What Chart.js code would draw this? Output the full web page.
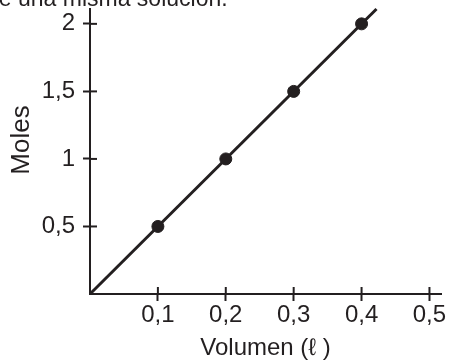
<!DOCTYPE html>
<html>
<head>
<meta charset="utf-8">
<script src="https://cdn.jsdelivr.net/npm/chart.js@4/dist/chart.umd.min.js"></script>
<style>
  html, body { margin: 0; padding: 0; background: #fff; }
  #wrap { width: 450px; height: 364px; }
</style>
</head>
<body>
<div id="wrap"><canvas id="chart" width="450" height="364"></canvas></div>
<script>
// ---------------------------------------------------------------------------
// Data
// ---------------------------------------------------------------------------

const VOLUMES = [0.1, 0.2, 0.3, 0.4];
const MOLES = [0.5, 1, 1.5, 2];
const LINE_X = [0, 0.422];      // fitted line runs from the origin past the last point
const LINE_Y = [0, 2.11];
const X_TICKS = [0.1, 0.2, 0.3, 0.4, 0.5];
const Y_TICKS = [0.5, 1, 1.5, 2];
const X_MAX = 0.517;
const Y_MAX = 2.11;

const INK = "#231f20";
const FONT = "'Liberation Sans', Arial, sans-serif";

const comma = v => String(v).replace(".", ",");

// ticks in the reference cross the axis: Chart.js draws the outer half,
// this plugin adds the inner half, the y title and the cropped caption
const extras = {
  id: "extras",
  afterDatasetsDraw(chart) {
    const { ctx, scales } = chart;
    const inner = 7;
    ctx.save();
    ctx.strokeStyle = INK;
    ctx.lineWidth = 2;
    X_TICKS.forEach(v => {
      const x = scales.x.getPixelForValue(v);
      ctx.beginPath();
      ctx.moveTo(x, scales.x.top);
      ctx.lineTo(x, scales.x.top - inner);
      ctx.stroke();
    });
    Y_TICKS.forEach(v => {
      const y = scales.y.getPixelForValue(v);
      ctx.beginPath();
      ctx.moveTo(scales.y.right, y);
      ctx.lineTo(scales.y.right + inner, y);
      ctx.stroke();
    });

    ctx.fillStyle = INK;
    ctx.font = `23px ${FONT}`;
    ctx.textAlign = "left";
    ctx.textBaseline = "alphabetic";
    ctx.fillText("de una misma solución.", -14, 6);

    // "Moles" sits a little above the middle of the axis in the original
    ctx.translate(22, 140);
    ctx.rotate(-Math.PI / 2);
    ctx.font = `26px ${FONT}`;
    ctx.textAlign = "center";
    ctx.textBaseline = "middle";
    ctx.fillText("Moles", 0, 0);
    ctx.restore();
  },
};

new Chart(document.getElementById("chart"), {
  type: "scatter",
  data: {
    datasets: [
      {
        type: "line",
        data: LINE_X.map((x, i) => ({ x, y: LINE_Y[i] })),
        borderColor: INK,
        borderWidth: 3,
        pointRadius: 0,
        clip: false,
      },
      {
        data: VOLUMES.map((x, i) => ({ x, y: MOLES[i] })),
        backgroundColor: INK,
        borderColor: INK,
        pointRadius: 6,
        pointHoverRadius: 6,
        clip: false,
      },
    ],
  },
  plugins: [extras],
  options: {
    responsive: false,
    animation: false,
    events: [],
    layout: { autoPadding: false, padding: { left: 0, top: 9, right: 9, bottom: 0 } },
    plugins: { legend: { display: false }, tooltip: { enabled: false } },
    scales: {
      x: {
        type: "linear",
        min: 0,
        max: X_MAX,
        afterBuildTicks: s => { s.ticks = X_TICKS.map(value => ({ value })); },
        afterFit: s => { s.height = 70; s.paddingLeft = 0; s.paddingRight = 0; },
        grid: { drawOnChartArea: false, tickLength: 7, tickWidth: 2, tickColor: INK },
        border: { color: INK, width: 2 },
        ticks: {
          color: INK,
          font: { family: FONT, size: 24 },
          padding: 0,
          maxRotation: 0,
          callback: v => comma(v),
        },
        title: {
          display: true,
          text: "Volumen (ℓ )",
          color: INK,
          font: { family: FONT, size: 24 },
          padding: { top: 0, bottom: 1 },
        },
      },
      y: {
        type: "linear",
        min: 0,
        max: Y_MAX,
        afterBuildTicks: s => { s.ticks = Y_TICKS.map(value => ({ value })); },
        afterFit: s => { s.width = 90; s.paddingTop = 0; s.paddingBottom = 0; },
        grid: { drawOnChartArea: false, tickLength: 7, tickWidth: 2, tickColor: INK },
        border: { color: INK, width: 2 },
        ticks: {
          color: INK,
          font: { family: FONT, size: 24 },
          padding: 8,
          callback: v => comma(v),
        },
      },
    },
  },
});
</script>
</body>
</html>
